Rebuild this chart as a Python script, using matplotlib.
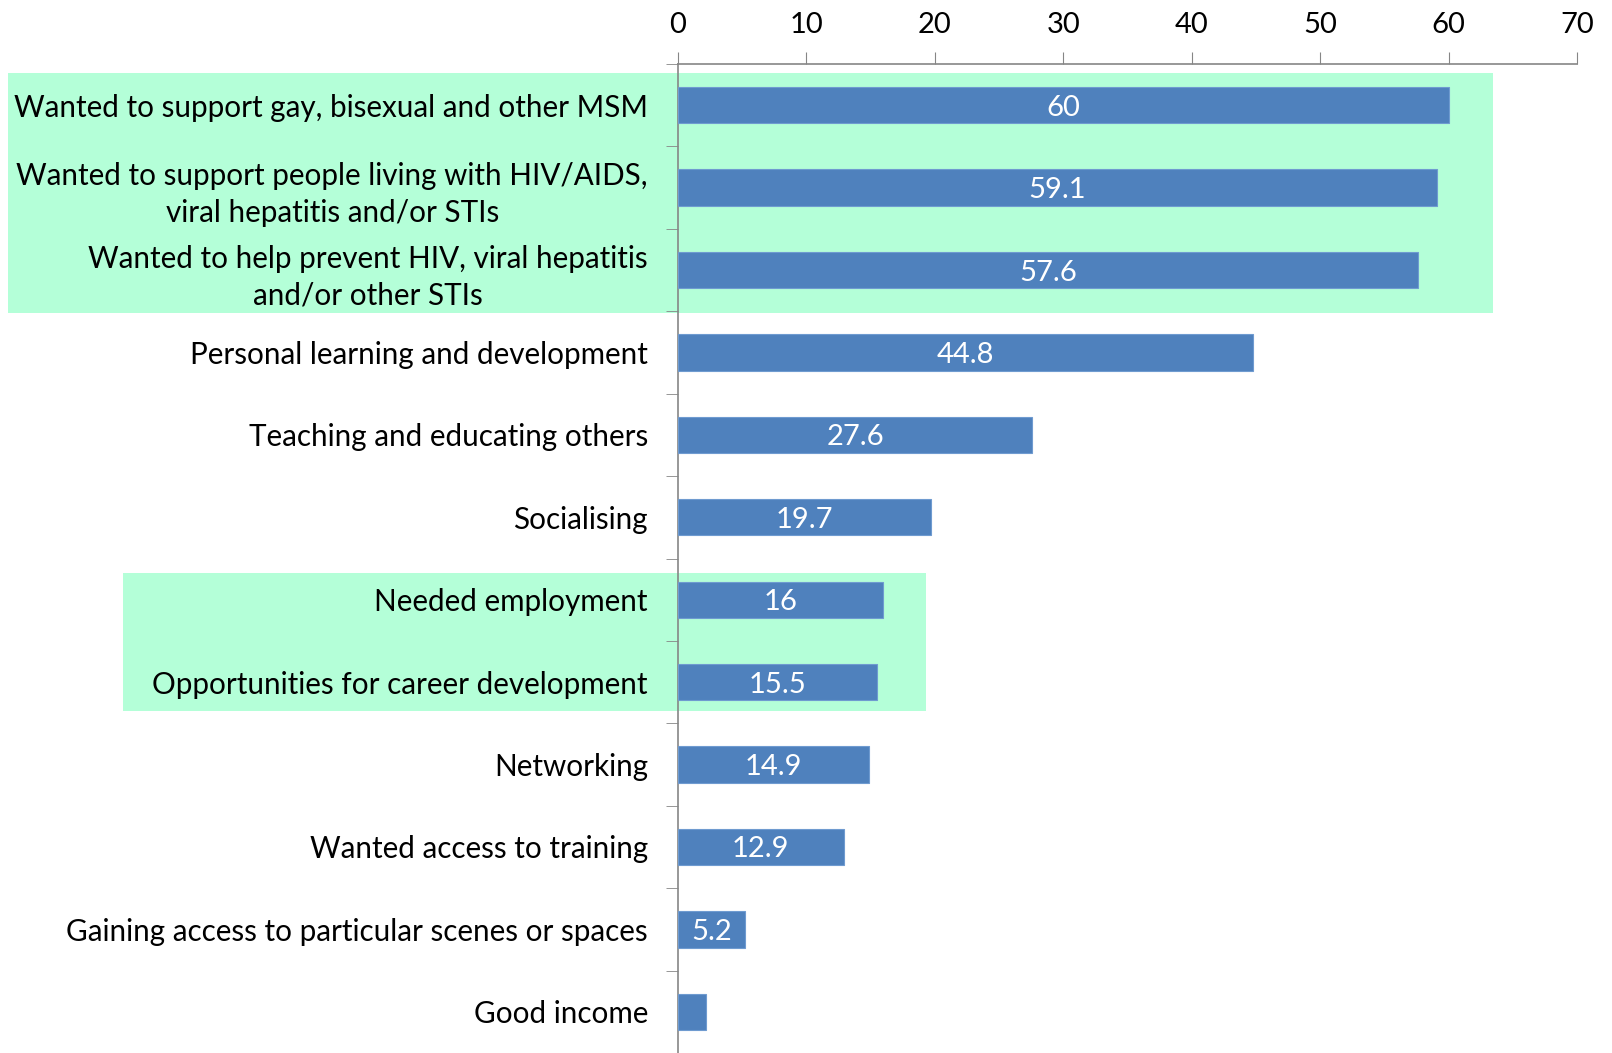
import numpy as np
import matplotlib.pyplot as plt
from matplotlib.patches import Rectangle
from matplotlib.transforms import blended_transform_factory

plt.rcParams['font.family'] = ['Lato', 'DejaVu Sans']

categories = ['Wanted to support gay, bisexual and other MSM',
              'Wanted to support people living with HIV/AIDS,\nviral hepatitis and/or STIs',
              'Wanted to help prevent HIV, viral hepatitis\nand/or other STIs',
              'Personal learning and development',
              'Teaching and educating others',
              'Socialising',
              'Needed employment',
              'Opportunities for career development',
              'Networking',
              'Wanted access to training',
              'Gaining access to particular scenes or spaces',
              'Good income']
values = [60, 59.1, 57.6, 44.8, 27.6, 19.7, 16, 15.5, 14.9, 12.9, 5.2, 2.2]
labels = ['60', '59.1', '57.6', '44.8', '27.6', '19.7', '16', '15.5', '14.9', '12.9', '5.2', '']

bar_color = '#4f81bd'
green = '#b4ffd8'
grey = '#868686'

fig = plt.figure(figsize=(16.12, 10.53), dpi=100)
ax = fig.add_axes([678 / 1612, 0.0, 899 / 1612, 1 - 64 / 1053])
ax.patch.set_alpha(0)

y = np.arange(len(categories))
ax.barh(y, values, height=0.44, color=bar_color, edgecolor='#6f9bd0', linewidth=0.8, zorder=3)
for yi, v, lab in zip(y, values, labels):
    ax.text(v / 2, yi + 0.03, lab, color='white', ha='center', va='center', fontsize=21, zorder=4)

ax.set_xlim(0, 70)
ax.set_ylim(len(categories) - 0.5, -0.5)
ax.xaxis.tick_top()
ax.set_xticks(np.arange(0, 71, 10))
ax.tick_params(axis='x', length=9, color=grey, labelsize=21, pad=10)

ax.set_yticks(y)
ax.set_yticklabels(categories, fontsize=21.3, ha='right', multialignment='center', linespacing=1.4)
ax.set_yticks(np.arange(-0.5, len(categories), 1), minor=True)
ax.tick_params(axis='y', which='major', length=0, pad=21.6)
ax.tick_params(axis='y', which='minor', length=9, color=grey)

for s in ['right', 'bottom']:
    ax.spines[s].set_visible(False)
ax.spines['top'].set_color(grey)
ax.spines['left'].set_color(grey)
ax.spines['top'].set_linewidth(1.2)
ax.spines['left'].set_linewidth(1.2)

# highlight boxes behind the chart
tr = blended_transform_factory(fig.transFigure, ax.transData)
boxes = [(8 / 1612, 1493 / 1612, -0.39, 2.52), (123 / 1612, 926 / 1612, 5.67, 7.35)]
for x0, x1, y0, y1 in boxes:
    fig.patches.append(Rectangle((x0, y0), x1 - x0, y1 - y0, transform=tr,
                                 facecolor=green, edgecolor='none', zorder=-1))

fig.savefig('out.png', dpi=100)
